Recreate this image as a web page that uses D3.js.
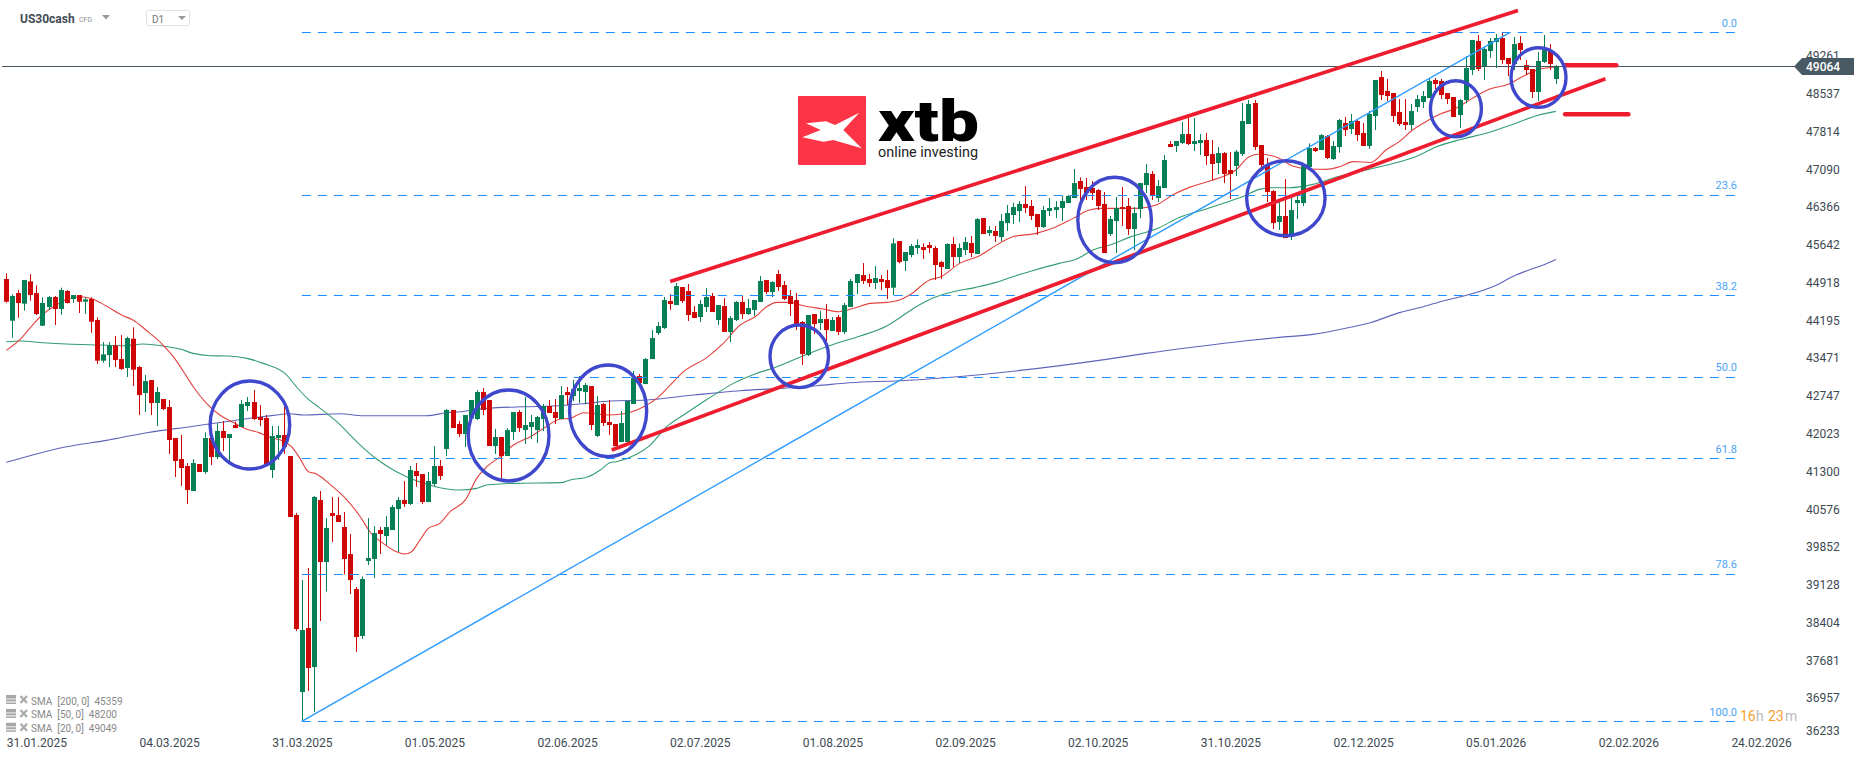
<!DOCTYPE html>
<html><head><meta charset="utf-8">
<script src="https://cdn.jsdelivr.net/npm/d3@7"></script>
<style>html,body{margin:0;padding:0;background:#fff}svg{display:block}text{font-family:Roboto,sans-serif}</style>
</head><body><svg id="c" width="1866" height="761"></svg>
<script>
const opens=[44987,44188,44718,44514,44942,44718,44092,44450,44642,44412,
44757,44603,44680,44552,44603,44201,43422,43530,43715,43453,
43281,43843,43300,42802,43051,42610,42687,42534,41940,41537,
41403,40924,41441,41288,41940,41575,42074,41940,42189,42150,
42553,42629,42342,42323,41326,41940,41997,41595,40464,37072,
38298,37551,40751,39563,40502,40464,40234,39716,39046,38145,
39582,39621,40176,40061,40176,40579,40751,40675,41307,41250,
40713,41058,41403,41729,42476,42208,42016,42316,42304,42821,
42668,41786,41959,41595,42054,42438,42093,42150,42093,42304,
42553,42438,42304,42821,42744,42840,42821,42936,41978,42591,
42246,42208,41863,41863,42591,43128,42974,43453,43952,44048,
44565,44488,44833,44757,44354,44258,44450,44661,44201,44469,
43971,44201,44546,44316,44392,44546,44967,44737,45082,44872,
44661,44584,44163,43530,44316,44143,44220,43990,44258,43971,
44450,44910,45063,44987,44910,44987,44968,44821,45715,45332,
45447,45581,45600,45638,45581,45312,45178,45657,45408,45542,
45677,45466,46156,45868,45907,45791,46060,46213,46290,46424,
46386,46232,45983,46290,46309,46347,46443,46539,46865,46750,
46731,46692,46424,45849,46098,46366,46386,45945,46328,46788,
47000,46539,46731,47574,47535,47593,47765,47574,47593,47650,
47382,47210,47401,47076,47152,47382,47957,48360,47555,47171,
46673,46079,46194,45811,46443,46443,47133,47497,47459,47727,
47286,47516,47976,47861,48015,47785,47536,48111,48858,48590,
48551,48187,47996,47938,48283,48379,48456,48801,48781,48551,
48475,48130,48417,48992,49548,49069,49356,49529,49605,49222,
49107,49510,49088,49011,48571,49146,49375,48820];
const highs=[45095,44693,44776,44967,45082,44865,44635,44661,44661,44821,
44776,44680,44680,44635,44635,44252,43779,43779,43894,43913,
43881,44060,43319,43147,43051,42917,42687,42668,41940,41997,
41460,41537,41441,42048,41965,42221,42265,42016,42253,42668,
42725,42859,42572,42380,42169,42169,42540,41595,40502,39218,
39448,40828,40924,40406,40809,40809,40521,40100,39084,39288,
40406,40253,40234,40445,40656,40809,41115,41403,41460,41250,
41288,41786,41518,42495,42476,42265,42380,42668,42859,42898,
42668,42112,41959,42131,42438,42476,42725,42380,42361,42591,
42668,42687,42936,42917,43051,43128,42994,42936,42744,42610,
42668,42208,42457,42649,43223,43166,43473,44009,44163,44642,
44699,44910,44833,44891,44469,44584,44814,44718,44488,44622,
44278,44565,44661,44603,44584,45044,44967,44948,45159,44948,
44776,44718,44182,44297,44316,44373,44507,44258,44297,44527,
44987,45082,45293,45082,45236,45063,45159,45766,45715,45504,
45657,45747,45670,45696,45619,45332,45670,45792,45670,45792,
45811,46156,46156,46002,46002,46232,46405,46450,46481,46769,
46501,46232,46386,46539,46481,46577,46596,47095,46935,46922,
46865,46711,46654,46194,46558,46750,46539,46366,46826,47190,
47056,46884,47363,47631,47631,47995,48130,48072,47765,47785,
47650,47516,47421,47421,47459,48360,48417,48417,47555,47306,
46692,46462,46903,46596,46596,47152,47587,47516,47765,47746,
47631,48053,48091,48149,48034,47976,48206,48801,48973,48820,
48551,48436,48436,48341,48513,48590,48820,48839,48820,48551,
48475,48436,49260,49567,49663,49439,49605,49682,49720,49222,
49625,49644,49184,49011,49337,49663,49490,49088];
const lows=[44533,43862,44246,44380,44571,44297,44092,44393,44105,44303,
44520,44527,44335,44316,43958,43358,43383,43300,43300,43243,
43108,42936,42380,42438,42380,42169,42476,41633,41192,41020,
40675,40924,41288,41250,41422,41537,41690,41460,42131,42150,
42457,42284,42169,41422,41173,41518,41633,40426,38241,36510,
37091,36689,38432,38997,39946,40330,39327,38950,37838,38087,
39506,39256,39716,39889,40176,39755,40617,40655,41007,40675,
40713,41020,41135,41595,42131,41959,41767,42316,42284,42380,
41786,41633,41166,41595,41901,42054,41825,41920,41844,42074,
42419,42208,42304,42572,42649,42610,42591,42093,41959,42169,
41997,41786,41863,41863,42591,42994,42974,43453,43913,44028,
44393,44488,44527,44182,44239,44163,44354,44354,44105,43971,
43779,44182,44220,44297,44277,44546,44699,44642,44757,44584,
44278,44009,43338,43511,43933,44009,43798,43990,43913,43933,
44450,44699,44891,44833,44795,44776,44603,44680,45287,45140,
45402,45466,45370,45485,44968,44987,45178,45217,45293,45447,
45408,45466,45849,45811,45696,45715,45907,46041,46079,46252,
46117,45830,45964,46194,46156,46098,46443,46539,46437,46501,
46501,46309,45485,45811,45485,46002,45830,45542,46156,46635,
46501,46462,46731,47516,47420,47574,47555,47440,47363,47171,
46884,47000,46826,46520,46961,47344,47957,47459,47095,46462,
45945,45926,45772,45734,46137,46386,47133,47421,47459,47286,
47267,47408,47727,47766,47631,47536,47478,47842,48417,48398,
47996,47919,47842,47842,48187,48264,48456,48628,48436,48341,
48091,47881,48353,48896,48973,48800,49222,49030,49107,48877,
48992,49184,48896,48455,48398,49126,48992,48724];
const closes=[44552,44661,44527,44967,44680,44316,44527,44642,44412,44776,
44527,44680,44552,44597,44169,43422,43543,43715,43434,43262,
43856,43249,42763,43032,42610,42821,42495,41901,41499,41365,
40943,41460,41288,41940,41575,42074,41940,42016,42131,42591,
42629,42304,42284,41422,41978,41997,41767,40426,38279,38260,
37532,40809,39563,40215,40445,40330,39621,39218,38126,39237,
39640,40119,40100,40234,40617,40751,40675,41326,41211,40713,
41115,41403,41211,42476,42131,42016,42380,42668,42821,42476,
41786,41959,41595,42093,42438,42131,42189,42246,42342,42553,
42419,42323,42763,42763,42878,42898,42955,42189,42572,42227,
42189,41786,42227,42649,43089,42994,43453,43856,44086,44584,
44507,44852,44565,44297,44239,44507,44642,44354,44488,43971,
44239,44546,44316,44431,44584,44948,44737,44929,44833,44603,
44507,44105,43549,44297,44124,44220,44009,44201,43971,44488,
44948,45082,44948,44910,45006,44929,44814,45670,45312,45504,
45619,45638,45542,45581,45255,45217,45657,45408,45581,45696,
45485,46137,45849,45926,45811,46098,46251,46366,46424,46347,
46194,45983,46309,46347,46366,46481,46577,46826,46711,46635,
46635,46386,45485,46137,46347,46328,45945,46251,46826,47018,
46577,46769,47267,47516,47631,47765,47574,47631,47650,47344,
47191,47401,47000,47000,47427,48015,48340,47516,47171,46654,
46060,46194,45772,46309,46501,47152,47497,47440,47746,47306,
47536,48034,47842,48015,47746,47536,48149,48801,48513,48494,
48111,47957,47938,48206,48436,48494,48781,48724,48513,48436,
48091,48417,49030,49567,49011,49395,49548,49605,49184,49107,
49490,49375,48992,48571,49165,49375,49107,49064];

const sma20=[[0,43620],[2.3,43830],[4.5,44124],[6.1,44316],[8.3,44488],[10,44597],[12.2,44648],[14.2,44610],[16.6,44469],[19.1,44297],[21,44201],[23.3,43996],[26,43722],[27.7,43498],[29.4,43211],[31,42923],[33.2,42604],[35.4,42380],[37.6,42240],[39.9,42106],[41.8,42048],[43.7,41952],[45.9,41882],[47.3,41773],[48.7,41550],[50.1,41294],[51.2,41262],[53.7,41052],[56.4,40764],[58.7,40432],[60.3,40144],[62.5,39921],[64.7,39761],[66.1,39716],[67.2,39761],[68.6,39985],[70,40208],[71.9,40304],[73.6,40528],[76.2,40764],[78,41167],[79.7,41390],[81.9,41582],[84.1,41805],[86.9,41965],[89.1,42125],[91.9,42304],[93.5,42316],[95.7,42425],[97.4,42412],[99.6,42380],[102.1,42399],[104.6,42476],[106.2,42572],[107.9,42700],[110.1,42955],[112.3,43211],[116.2,43485],[118.9,43754],[121.7,44105],[124.2,44265],[126.1,44456],[127.8,44539],[130,44539],[132.2,44476],[135.5,44412],[138,44361],[140.5,44425],[143.3,44520],[146,44539],[148.1,44584],[149.8,44680],[153.1,44967],[155,45031],[158.1,45287],[161.4,45434],[164.7,45670],[166.9,45798],[170.8,45862],[173.5,45958],[176.9,46149],[179.6,46309],[181.5,46341],[184,46341],[187.4,46341],[190.7,46405],[193.4,46596],[196.2,46743],[200.1,46884],[201.7,46948],[203.9,47076],[206.1,47331],[207.8,47382],[211.1,47299],[213.3,47152],[216.1,47095],[218.9,47088],[221.1,47139],[223.4,47236],[226.3,47220],[228.8,47459],[231,47619],[233.2,47842],[235.4,48002],[237.8,48149],[240.4,48258],[243.1,48449],[245.9,48622],[249.2,48724],[251.4,48864],[254.2,49005],[257,49049]];
const sma50=[[0,43786],[2.3,43798],[6.1,43766],[10,43741],[15.5,43722],[19.4,43709],[22.7,43741],[26,43703],[28.8,43645],[31,43562],[33.8,43517],[36.5,43511],[39.9,43466],[42.6,43370],[46.5,43147],[48.1,42923],[50.1,42680],[51.5,42559],[54.8,42253],[58.7,41805],[61.4,41537],[64.7,41294],[68,41122],[71.9,40988],[75.2,40943],[78,40975],[79.7,41039],[84.1,41071],[91.9,41084],[93.5,41135],[96.5,41198],[98.5,41326],[100.1,41467],[101.2,41486],[104.6,41633],[106.8,41805],[109.5,42157],[112.3,42380],[115.6,42636],[117.8,42795],[120.6,42987],[124.5,43179],[127.8,43307],[132.2,43517],[137.7,43754],[141.6,43894],[146,44086],[147.6,44201],[150.9,44457],[154.2,44648],[156.4,44725],[160.8,44827],[164.1,44923],[166.9,45031],[170.2,45146],[174.6,45287],[177.4,45364],[180.2,45542],[183.5,45657],[186.2,45785],[191.2,45970],[194.5,46168],[199,46328],[202.3,46456],[205,46564],[207.8,46705],[209.5,46737],[212.8,46737],[216.7,46801],[220.9,46950],[223.8,47025],[226.7,47108],[230.8,47223],[233.7,47332],[237.2,47523],[241.3,47664],[245.4,47779],[249.5,47938],[254.2,48130],[257,48200]];
const sma200=[[0,41473],[3.9,41601],[10,41773],[16.6,41895],[23.3,42042],[30.5,42157],[37.6,42272],[44.3,42374],[47,42406],[49.3,42380],[55.3,42406],[59.2,42367],[69.7,42367],[73,42425],[75.3,42444],[79.7,42508],[85.8,42540],[90.7,42553],[96.3,42604],[100.1,42648],[106.2,42668],[114,42763],[121.7,42847],[128.3,42891],[134.4,42942],[139.9,43000],[148.2,43038],[182.4,43447],[189,43562],[197.3,43690],[205.6,43805],[211.1,43869],[216.7,43926],[222.9,44061],[226.2,44150],[231.2,44348],[235,44457],[238.4,44572],[241.7,44661],[247.2,44872],[250,45045],[252.2,45147],[254.9,45255],[257,45359]];

const priceTicks=[49261,48537,47814,47090,46366,45642,44918,44195,43471,42747,42023,41300,40576,39852,39128,38404,37681,36957,36233];
const dateIndex=[5,27,49,71,93,115,137,159,181,203,225,247,269,291];
const dateLabels=["31.01.2025","04.03.2025","31.03.2025","01.05.2025","02.06.2025","02.07.2025","01.08.2025","02.09.2025","02.10.2025","31.10.2025","02.12.2025","05.01.2026","02.02.2026","24.02.2026"];
const fibLevels=[0,23.6,38.2,50,61.8,78.6,100];
const fibPrices=[49715,46600,44671,43112,41554,39336,36510];
const lastPrice=49064;
const legendRows=["SMA  [200, 0]  45359","SMA  [50, 0]  48200","SMA  [20, 0]  49049"];
// Analyst drawings in [candle index, price]
const trendLine=[[49,36510],[249.4,49715]];
const channelTop=[[110.1,44940],[250.7,50131]];
const channelBottom=[[100.4,41710],[265.2,48826]];
const targetUp=[[258.5,49083],[267,49083]];
const targetDown=[[258.5,48144],[269,48144]];
// ellipses: centre index, centre price, half-width in candles, half-height in price
const circles=[[40.4,42189,6.6,843],[83.3,41988,6.7,872],[99.8,42461,6.4,878],[131.5,43505,4.85,600],[183.8,46118,6.1,818],[212.2,46535,6.5,719],[240.4,48250,4.23,537],[254.1,48849,4.56,571]];

const svg=d3.select("#c");
const x=d3.scaleLinear().domain([0,257]).range([6.3,1556]);
const y=d3.scaleLinear().domain([36233,50334]).range([735.8,0]);
const RED="#cf0606",GREEN="#057f56",BLUE="#1a8cff";
const idx=d3.range(opens.length);

// moving averages
const lineGen=d3.line().x(d=>x(d[0])).y(d=>y(d[1])).curve(d3.curveMonotoneX);
[[sma200,"#5f63ba"],[sma50,"#339c74"],[sma20,"#e2423f"]].forEach(([s,c])=>{
  svg.append("path").attr("d",lineGen(s)).attr("fill","none").attr("stroke",c).attr("stroke-width",1.1);
});

// candles
const candles=svg.append("g");
candles.selectAll("line").data(idx).join("line")
  .attr("x1",i=>Math.round(x(i))+.5).attr("x2",i=>Math.round(x(i))+.5)
  .attr("y1",i=>y(highs[i])).attr("y2",i=>y(lows[i]))
  .attr("stroke",i=>closes[i]>=opens[i]?GREEN:RED).attr("stroke-width",1);
candles.selectAll("rect").data(idx).join("rect")
  .attr("x",i=>Math.round(x(i))-2).attr("width",5)
  .attr("y",i=>y(Math.max(opens[i],closes[i])))
  .attr("height",i=>Math.max(1,Math.abs(y(opens[i])-y(closes[i]))))
  .attr("fill",i=>closes[i]>=opens[i]?GREEN:RED);

// fibonacci
const fibX0=x(49),fibX1=1736;
svg.append("g").selectAll("line").data(fibPrices).join("line")
  .attr("x1",fibX0).attr("x2",fibX1).attr("y1",d=>Math.round(y(d))+.5).attr("y2",d=>Math.round(y(d))+.5)
  .attr("stroke",BLUE).attr("stroke-width",1).attr("stroke-dasharray","9 7");
svg.append("g").selectAll("text").data(fibPrices).join("text")
  .attr("x",1737).attr("y",d=>y(d)-5.5).attr("text-anchor","end")
  .attr("font-size",11).attr("fill","#4aa3f5").text((d,i)=>fibLevels[i].toFixed(1));

// trend line
svg.append("path").attr("d",d3.line().x(d=>x(d[0])).y(d=>y(d[1]))(trendLine))
  .attr("fill","none").attr("stroke","#2e9cff").attr("stroke-width",1.4);

// last price line
svg.append("line").attr("x1",2).attr("x2",1795).attr("y1",Math.round(y(lastPrice))+.5).attr("y2",Math.round(y(lastPrice))+.5)
  .attr("stroke","#46555f").attr("stroke-width",1);

// red drawings
const straight=d3.line().x(d=>x(d[0])).y(d=>y(d[1]));
[channelTop,channelBottom].forEach(s=>svg.append("path").attr("d",straight(s))
  .attr("fill","none").attr("stroke","#ee1c2e").attr("stroke-width",3.7));
[targetUp,targetDown].forEach(s=>svg.append("path").attr("d",straight(s))
  .attr("fill","none").attr("stroke","#ee1c2e").attr("stroke-width",4.4).attr("stroke-linecap","round"));

// ellipses
svg.append("g").selectAll("ellipse").data(circles).join("ellipse")
  .attr("cx",d=>x(d[0])).attr("cy",d=>y(d[1]))
  .attr("rx",d=>x(d[2])-x(0)).attr("ry",d=>Math.abs(y(36233+d[3])-y(36233)))
  .attr("fill","none").attr("stroke","#3f48cc").attr("stroke-width",3.4);

// price axis
const yAxis=d3.axisRight(y).tickValues(priceTicks).tickSize(0).tickPadding(0).tickFormat(d=>d);
const gy=svg.append("g").attr("transform","translate(1806,0)").call(yAxis);
gy.select(".domain").remove();
gy.selectAll("text").attr("font-size",12).attr("font-family","Roboto,sans-serif").attr("fill","#3d4a52");
gy.selectAll(".tick").filter(d=>d===36233).select("text").attr("y",-5);

// date axis
const xAxis=d3.axisBottom(x).tickValues(dateIndex).tickSize(0).tickPadding(0).tickFormat((d,i)=>dateLabels[i]);
const gx=svg.append("g").attr("transform","translate(0,738)").call(xAxis);
gx.select(".domain").remove();
gx.selectAll("text").attr("font-size",12).attr("font-family","Roboto,sans-serif").attr("fill","#3d4a52");

// last price tag
const tagY=Math.round(y(lastPrice))+.5;
svg.append("path").attr("d",`M1794,${tagY} L1802,${tagY-8.5} H1854 V${tagY+8.5} H1802 Z`).attr("fill","#4a5a64");
svg.append("text").attr("x",1806).attr("y",tagY+4.3).attr("font-size",12).attr("font-weight",500).attr("fill","#fff").text(lastPrice);

// logo
svg.append("rect").attr("x",798).attr("y",96).attr("width",68).attr("height",69).attr("rx",1).attr("fill","#fd3446");
svg.append("polygon").attr("points","806,123.3 826,121.3 835,125 859.3,112.7 843.3,130 861.7,148.3 833.3,140 823.3,141.7 802.3,137.3 820.7,130").attr("fill","#fff");
svg.append("text").attr("x",878).attr("y",141).attr("font-family","Inter,sans-serif").attr("font-weight",900).attr("font-size",57)
  .attr("textLength",101).attr("lengthAdjust","spacingAndGlyphs").attr("fill","#000").text("xtb");
svg.append("text").attr("x",878).attr("y",157).attr("font-family","Roboto,sans-serif").attr("font-size",14.5)
  .attr("textLength",100).attr("lengthAdjust","spacingAndGlyphs").attr("fill","#222").text("online investing");

// header
svg.append("text").attr("x",20).attr("y",23).attr("font-size",12).attr("font-weight",700).attr("fill","#3f4b54").text("US30cash");
svg.append("text").attr("x",79).attr("y",22).attr("font-size",7).attr("fill","#8a8f94").text("CFD");
svg.append("path").attr("d","M102,15 h8 l-4,4.5 Z").attr("fill","#999");
svg.append("rect").attr("x",146.5).attr("y",10.5).attr("width",43).attr("height",15).attr("rx",2).attr("fill","#fff").attr("stroke","#e3e3e3");
svg.append("text").attr("x",152).attr("y",23).attr("font-size",10).attr("fill","#777").text("D1");
svg.append("path").attr("d","M178,16 h8 l-4,4 Z").attr("fill","#999");

// legend
legendRows.forEach((t,k)=>{
  const cy=701+k*13.9;
  const g=svg.append("g");
  g.append("rect").attr("x",6).attr("y",cy-6).attr("width",10).attr("height",9).attr("fill","#a8a8a8");
  g.append("rect").attr("x",6).attr("y",cy-2.5).attr("width",10).attr("height",1).attr("fill","#eee");
  g.append("rect").attr("x",6).attr("y",cy+.5).attr("width",10).attr("height",1).attr("fill","#fff");
  g.append("path").attr("d",`M20.5,${cy-5} L27,${cy+2} M27,${cy-5} L20.5,${cy+2}`).attr("stroke","#aaa").attr("stroke-width",2.2);
  svg.append("text").attr("x",31).attr("y",cy+3.5).attr("font-size",10).attr("fill","#888").style("white-space","pre").text(t);
});

// countdown
const cd=svg.append("g").attr("font-size",14);
cd.append("text").attr("x",1740).attr("y",721).attr("fill","#f5a030").text("16");
cd.append("text").attr("x",1756).attr("y",721).attr("fill","#bbb").text("h");
cd.append("text").attr("x",1768).attr("y",721).attr("fill","#f5a030").text("23");
cd.append("text").attr("x",1785).attr("y",721).attr("fill","#bbb").text("m");
</script></body></html>
